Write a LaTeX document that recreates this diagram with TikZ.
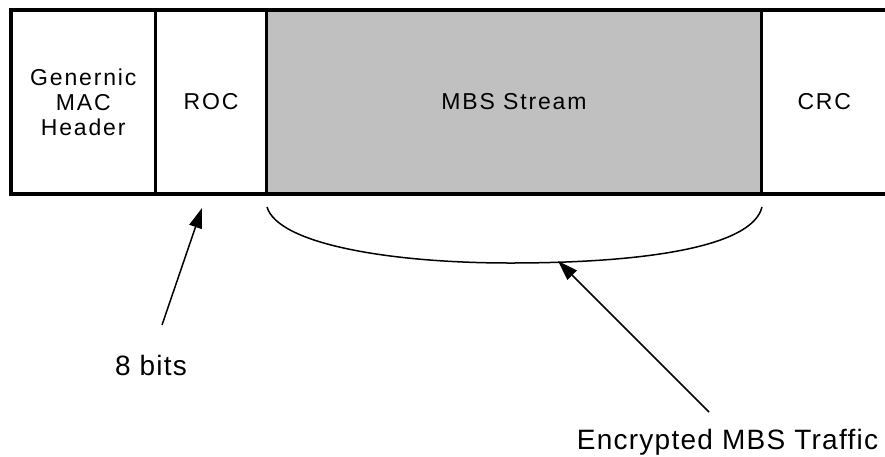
\documentclass[tikz,border=0pt]{standalone}
\usepackage{fontspec}
\setmainfont{Liberation Sans}
\newfontfamily\fieldfont[LetterSpace=8]{Liberation Sans}
\newfontfamily\notefont[LetterSpace=4.5]{Liberation Sans}
\usetikzlibrary{arrows.meta}
\tikzset{>={Triangle[length=20pt,width=13pt]}}

\begin{document}
\begin{tikzpicture}[x=1pt, y=-1pt,
  field/.style={draw, line width=3.5pt, minimum height=184pt, inner sep=0pt,
    outer sep=0pt, align=center, font=\fieldfont\fontsize{23}{25}\selectfont},
  note/.style={inner sep=0pt, font=\notefont\fontsize{28}{32}\selectfont}]
\useasboundingbox (0,0) rectangle (885,456);
% the frame fields
\node[field, minimum width=144.5pt] (gmh) at (83.25,102) {Genernic\\MAC\\Header};
\node[field, minimum width=111pt] (roc) at (211,102) {ROC};
\node[field, minimum width=495pt, fill={rgb,255:red,192;green,192;blue,192}] (mbs) at (514,102) {MBS Stream};
\node[field, draw=none, minimum width=125.5pt] (crc) at (824.25,102) {CRC};
\draw[line width=3.5pt] (crc.north west) -- (crc.north east)
  (crc.south west) -- (crc.south east);
% brace under the stream
\coordinate (bl) at (267,207);
\coordinate (bm) at (510,263);
\coordinate (br) at (762,207);
\draw[line width=1.5pt] (bl) .. controls (278,244) and (390,263) .. (bm)
  .. controls (640,263) and (752,248) .. (br);
% labels
\node[note, anchor=base] (bits) at (151,375) {8 bits};
\node[note, anchor=base] (enc) at (727.5,449) {Encrypted MBS Traffic};
\coordinate (bitstail) at (162,325);
\coordinate (roctip) at (202,208);
\coordinate (enctail) at (709,412);
\coordinate (enctip) at (558,261);
\draw[->, line width=1.5pt] (bitstail) -- (roctip);
\draw[->, line width=1.5pt] (enctail) -- (enctip);
\end{tikzpicture}
\end{document}
